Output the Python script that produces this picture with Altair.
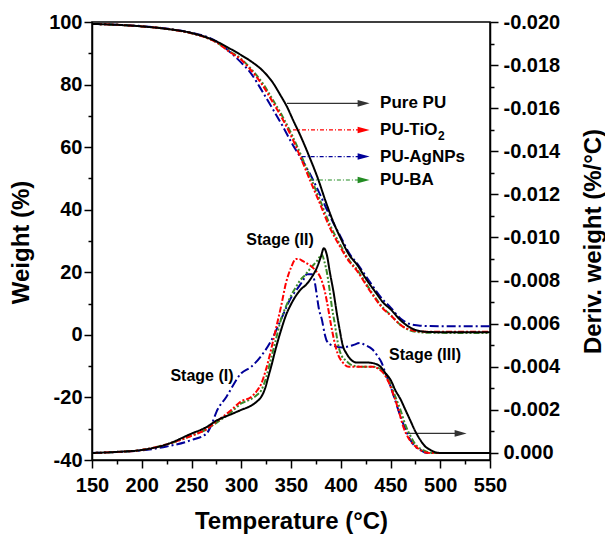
import altair as alt
import pandas as pd

FONT = "Liberation Sans"

series_names = ["Pure PU", "PU-TiO2", "PU-AgNPs", "PU-BA"]
series_colors = {"Pure PU": "#000000", "PU-TiO2": "#ff0000", "PU-AgNPs": "#000099", "PU-BA": "#3a8a2a"}
series_dash = {"Pure PU": [1, 0], "PU-TiO2": [6, 2, 2, 2], "PU-AgNPs": [9, 3, 2, 3], "PU-BA": [6, 2, 2, 2, 2, 2]}

# ---- TGA (weight %) ----
tga_black_T = [150,175,200,225,250,265,275,288,300,309,322,332,339,346,352,359,369,377,385,392,400,409,416,426,435,443,450,460,470,478,487,500,550]
tga_black_W = [99.4,99.1,98.6,97.8,96.5,95.1,93.8,91.6,89.4,87.6,84.3,80.5,76.8,72.9,68.7,64.0,56.5,50.0,42.5,36.5,30.8,25.3,22.6,17.6,13.6,10.2,8.2,4.7,2.3,1.3,0.95,0.85,0.85]

tga_red_T = [150,175,200,225,250,265,275,288,300,309,322,332,342,352,362,369,379,389,400,409,416,429,443,450,460,470,480,490,550]
tga_red_W = [99.4,99.1,98.6,97.8,96.4,95.0,93.5,90.5,87.9,84.9,79.5,74.2,68.7,62.3,54.9,49.5,42.0,34.3,27.8,23.2,20.6,14.2,8.2,6.3,3.2,1.6,1.1,1.0,1.0]

tga_green_T = [150,175,200,225,250,265,275,288,300,309,322,332,342,352,362,369,379,389,400,409,416,429,443,450,460,470,480,490,550]
tga_green_W = [99.4,99.1,98.6,97.8,96.4,95.0,93.5,90.7,88.2,85.3,80.2,75.0,69.5,63.2,56.0,50.8,43.2,35.3,28.5,23.6,21.0,14.6,8.5,6.4,3.2,1.4,0.8,0.65,0.6]

tga_blue_T = [150,175,200,225,250,265,275,288,300,309,322,332,342,352,360,369,379,389,400,409,416,429,443,450,460,470,478,487,550]
tga_blue_W = [99.4,99.1,98.7,97.9,96.6,95.3,93.8,90.6,87.0,83.9,77.4,72.0,66.5,60.6,56.5,51.5,45.0,38.0,31.3,25.8,23.0,17.0,11.0,8.8,5.2,3.4,3.0,2.8,2.75]

# ---- DTG (deriv. weight %/°C) ----
dtg_black_T = [150,175,200,225,250,265,275,290,300,310,316,320,324,327,330,335,340,345,350,355,360,365,370,376,380,383,386,389,393,396,399,402,406,411,416,426,434,440,445,450,455,460,465,470,475,480,485,490,500,550]
dtg_black_D = [0,-0.00005,-0.00014,-0.0004,-0.0009,-0.0012,-0.0015,-0.0018,-0.0020,-0.0022,-0.0024,-0.0026,-0.0030,-0.0035,-0.0040,-0.0049,-0.0057,-0.0064,-0.0069,-0.0073,-0.0076,-0.0078,-0.0081,-0.0086,-0.0091,-0.0095,-0.0092,-0.0084,-0.0074,-0.0065,-0.0057,-0.0050,-0.0046,-0.0043,-0.0042,-0.0042,-0.00415,-0.0040,-0.0037,-0.0034,-0.0029,-0.0025,-0.0020,-0.0015,-0.0010,-0.0006,-0.0003,-0.00014,0,0]

dtg_red_T = [150,175,200,225,250,265,275,290,300,310,316,320,325,330,335,340,345,350,355,358,362,366,374,380,384,387,390,393,397,402,408,416,432,438,443,448,453,458,463,468,473,478,483,490,550]
dtg_red_D = [0,-0.00005,-0.00014,-0.0004,-0.0008,-0.0011,-0.00145,-0.0020,-0.0024,-0.0026,-0.0029,-0.0032,-0.0039,-0.0048,-0.0058,-0.0068,-0.0079,-0.0086,-0.0090,-0.0090,-0.0089,-0.0088,-0.0085,-0.0081,-0.0075,-0.0068,-0.0060,-0.0053,-0.0046,-0.0042,-0.0040,-0.0040,-0.0040,-0.0039,-0.0037,-0.0033,-0.0027,-0.0020,-0.0012,-0.0007,-0.0004,-0.0002,-0.00006,0,0]

dtg_green_T = [150,175,200,225,250,265,275,290,300,310,316,320,325,330,335,340,345,350,355,359,365,370,376,381,384,386,389,391,394,396,398,401,405,410,420,432,440,445,450,455,460,465,470,475,480,487,495,550]
dtg_green_D = [0,-0.00005,-0.00014,-0.0004,-0.0008,-0.0011,-0.0014,-0.0019,-0.0023,-0.0025,-0.0027,-0.0029,-0.0035,-0.0044,-0.0053,-0.0062,-0.0068,-0.0073,-0.0077,-0.0080,-0.0083,-0.0086,-0.0089,-0.0092,-0.0088,-0.0084,-0.0075,-0.0068,-0.0060,-0.0054,-0.0049,-0.0045,-0.0043,-0.0041,-0.0040,-0.0040,-0.0039,-0.0036,-0.0032,-0.0026,-0.0020,-0.0013,-0.0008,-0.0004,-0.0002,-0.00005,0,0]

dtg_blue_T = [150,175,200,225,250,265,270,275,285,300,310,320,330,340,350,356,362,366,371,374,376,378,381,384,386,391,402,412,419,425,432,437,441,445,450,455,460,465,470,475,480,487,550]
dtg_blue_D = [0,-0.00005,-0.00012,-0.0003,-0.0006,-0.0009,-0.0013,-0.0019,-0.0026,-0.0037,-0.0040,-0.0045,-0.0052,-0.0062,-0.0072,-0.0076,-0.0080,-0.0083,-0.0083,-0.0079,-0.0073,-0.0067,-0.0062,-0.0055,-0.0052,-0.0050,-0.0049,-0.0050,-0.0051,-0.0050,-0.0048,-0.0045,-0.0042,-0.0037,-0.0031,-0.0024,-0.0017,-0.0011,-0.0006,-0.0003,-0.00014,0,0]

# ---- annotations (data coordinates) ----
legend_labels = ["Pure PU", "PU-TiO", "PU-AgNPs", "PU-BA"]
arrow_start_T = [346, 352, 360.7, 369]
arrow_end_T = [423, 423, 423, 423]
arrow_W = [74.0, 65.5, 57.0, 49.5]
label_T = 439.5

stage_text = ["Stage (I)", "Stage (II)", "Stage (III)"]
stage_T = [260.5, 339, 484.7]
stage_W = [-13.1, 30.3, -6.4]

dtg_arrow_T = [466, 520.5]
dtg_arrow_W = -31.5

# ---- scales / axes ----
x_scale = alt.Scale(domain=[150, 550], nice=False, zero=False)
yl_scale = alt.Scale(domain=[-40, 100], nice=False, zero=False)
yr_scale = alt.Scale(domain=[-0.020, 0.000325], nice=False, zero=False, reverse=True)

common_axis = dict(
    tickColor="black", tickWidth=1.5, domainColor="black", domainWidth=1.5,
    labelFont=FONT, labelFontSize=20, labelFontWeight="bold", labelColor="black",
    titleFont=FONT, titleFontSize=24, titleFontWeight="bold", titleColor="black",
    grid=False, labelOverlap=False, labelFlush=False,
)

x_axis = alt.Axis(
    values=list(range(150, 551, 25)),
    labelExpr="datum.value % 50 == 0 ? datum.label : ''",
    tickSize={"condition": {"test": "datum.value % 50 != 0", "value": 4}, "value": 8},
    labelPadding=7,
    title="Temperature (°C)", titleX=199, titleY=68, titleAlign="center", titleBaseline="alphabetic",
    **common_axis,
)
yl_axis = alt.Axis(
    values=list(range(-40, 101, 10)),
    labelExpr="datum.value % 20 == 0 ? replace(datum.label, '\u2212', '-') : ''",
    tickSize={"condition": {"test": "datum.value % 20 != 0", "value": 4}, "value": 8},
    labelPadding=2,
    title="Weight (%)", titleX=-71, titleY=220, titleAngle=270, titleAlign="center", titleBaseline="middle",
    **common_axis,
)
yr_axis = alt.Axis(
    orient="right",
    values=[round(-0.020 + 0.001 * i, 3) for i in range(21)],
    labelExpr="round(abs(datum.value) * 1000) % 2 == 0 ? replace(format(datum.value, '.3f'), '\u2212', '-') : ''",
    tickSize={"condition": {"test": "round(abs(datum.value) * 1000) % 2 == 1", "value": 4}, "value": 8},
    labelPadding=5,
    title="Deriv. weight (%/°C)", titleX=103, titleY=219, titleAngle=270, titleAlign="center", titleBaseline="middle",
    **common_axis,
)

X = alt.X("T:Q", scale=x_scale, axis=x_axis)
YL = alt.Y("W:Q", scale=yl_scale, axis=yl_axis)
YR = alt.Y("D:Q", scale=yr_scale, axis=yr_axis)

tga_sets = {
    "PU-AgNPs": (tga_blue_T, tga_blue_W),
    "PU-BA": (tga_green_T, tga_green_W),
    "PU-TiO2": (tga_red_T, tga_red_W),
    "Pure PU": (tga_black_T, tga_black_W),
}
dtg_sets = {
    "PU-AgNPs": (dtg_blue_T, dtg_blue_D),
    "PU-BA": (dtg_green_T, dtg_green_D),
    "PU-TiO2": (dtg_red_T, dtg_red_D),
    "Pure PU": (dtg_black_T, dtg_black_D),
}

left_layers = []
for name, (T, W) in tga_sets.items():
    df = pd.DataFrame({"T": T, "W": W})
    left_layers.append(
        alt.Chart(df).mark_line(color=series_colors[name], strokeDash=series_dash[name],
                                strokeWidth=2, interpolate="monotone").encode(x=X, y=YL)
    )

# legend arrows
arrow_colors = ["#333333", "#ff0000", "#000099", "#228b22"]
arrow_dash = [[1, 0], [4, 2, 1, 2], [4, 2, 1, 2], [4, 2, 1, 2]]
head_path = "M 1 0 L -1 0.55 L -1 -0.55 Z"
for i in range(4):
    dfa = pd.DataFrame({"T": [arrow_start_T[i]], "T2": [arrow_end_T[i]], "W": [arrow_W[i]]})
    left_layers.append(
        alt.Chart(dfa).mark_rule(color=arrow_colors[i], strokeDash=arrow_dash[i], strokeWidth=1.2)
        .encode(x=X, x2="T2:Q", y=YL)
    )
    dfh = pd.DataFrame({"T": [arrow_end_T[i]], "W": [arrow_W[i]]})
    left_layers.append(
        alt.Chart(dfh).mark_point(shape=head_path, filled=True, size=144, opacity=1,
                                  color=arrow_colors[i], strokeWidth=0)
        .encode(x=X, y=YL)
    )

df_lab = pd.DataFrame({"T": [label_T] * 4, "W": arrow_W, "label": legend_labels})
left_layers.append(
    alt.Chart(df_lab).mark_text(font=FONT, fontSize=17, fontWeight="bold", align="left",
                                baseline="middle", color="black")
    .encode(x=X, y=YL, text="label:N")
)
df_sub = pd.DataFrame({"T": [label_T], "W": [arrow_W[1]], "label": ["2"]})
left_layers.append(
    alt.Chart(df_sub).mark_text(font=FONT, fontSize=12, fontWeight="bold", align="left",
                                baseline="middle", color="black", dx=58, dy=6)
    .encode(x=X, y=YL, text="label:N")
)

# DTG arrow
dfa = pd.DataFrame({"T": [dtg_arrow_T[0]], "T2": [dtg_arrow_T[1]], "W": [dtg_arrow_W]})
left_layers.append(
    alt.Chart(dfa).mark_rule(color="#333333", strokeWidth=1.2).encode(x=X, x2="T2:Q", y=YL)
)
dfh = pd.DataFrame({"T": [dtg_arrow_T[1]], "W": [dtg_arrow_W]})
left_layers.append(
    alt.Chart(dfh).mark_point(shape=head_path, filled=True, size=144, opacity=1,
                              color="#333333", strokeWidth=0).encode(x=X, y=YL)
)

df_stage = pd.DataFrame({"T": stage_T, "W": stage_W, "label": stage_text})
left_layers.append(
    alt.Chart(df_stage).mark_text(font=FONT, fontSize=16, fontWeight="bold", align="center",
                                  baseline="middle", color="black")
    .encode(x=X, y=YL, text="label:N")
)

right_layers = []
for name, (T, D) in dtg_sets.items():
    df = pd.DataFrame({"T": T, "D": D})
    right_layers.append(
        alt.Chart(df).mark_line(color=series_colors[name], strokeDash=series_dash[name],
                                strokeWidth=2, interpolate="monotone").encode(x=X, y=YR)
    )

left = alt.layer(*left_layers)
right = alt.layer(*right_layers)

chart = (
    alt.layer(left, right)
    .resolve_scale(y="independent")
    .properties(
        width=398, height=438,
        autosize=alt.AutoSizeParams(type="none"),
        padding={"left": 92, "top": 22, "right": 115, "bottom": 75},
        background="white",
    )
    .configure_view(stroke="black", strokeWidth=1.5)
)

chart.save("out.html", embed_options={"renderer": "svg", "actions": False})
